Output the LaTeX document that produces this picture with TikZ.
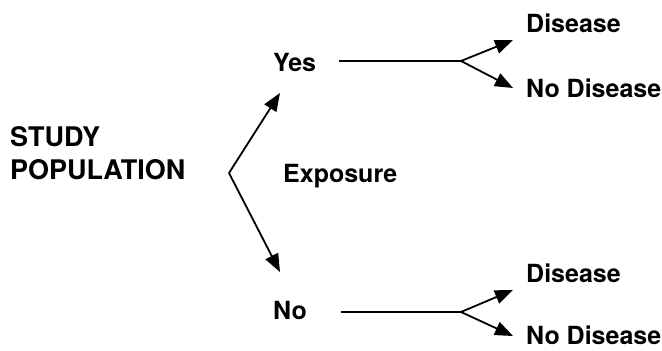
\documentclass[tikz,border=0pt]{standalone}
\usepackage{fontspec}
\setmainfont{TeX Gyre Heros}
\usetikzlibrary{arrows.meta}
\tikzset{
	lbl/.style={anchor=base west, inner sep=0pt, font=\bfseries\fontsize{25}{30}\selectfont},
	arr/.style={line width=1.8pt, -{Triangle[length=18pt,width=14pt]}},
	ln/.style={line width=1.8pt}
}
\begin{document}
\begin{tikzpicture}[x=1pt,y=1pt]
	\useasboundingbox (0,0) rectangle (662,351);
	\node[anchor=base west, inner sep=0pt, align=left, font=\bfseries\fontsize{27}{33}\selectfont] (study) at (10,171) {STUDY\\POPULATION};
	% exposure split
	\coordinate (v) at (229,178);
	\coordinate (yestip) at (280,258);
	\coordinate (notip) at (280,79);
	\draw[arr] (v) -- (yestip);
	\draw[arr] (v) -- (notip);
	\node[lbl] (yes) at (273,279) {Yes};
	\node[lbl] (no) at (273,31) {No};
	\node[lbl] (exp) at (283,168) {Exposure};
	% upper branch
	\coordinate (ya) at (339,290);
	\coordinate (yf) at (461,290);
	\coordinate (yd) at (513,311);
	\coordinate (ynd) at (513,263);
	\draw[ln] (ya) -- (yf);
	\draw[arr] (yf) -- (yd);
	\draw[arr] (yf) -- (ynd);
	\node[lbl] (dis1) at (526,318) {Disease};
	\node[lbl] (nodis1) at (526,253) {No Disease};
	% lower branch
	\coordinate (na) at (341,39);
	\coordinate (nf) at (461,39);
	\coordinate (nd) at (513,61);
	\coordinate (nnd) at (513,15);
	\draw[ln] (na) -- (nf);
	\draw[arr] (nf) -- (nd);
	\draw[arr] (nf) -- (nnd);
	\node[lbl] (dis2) at (526,68) {Disease};
	\node[lbl] (nodis2) at (526,6) {No Disease};
\end{tikzpicture}
\end{document}
